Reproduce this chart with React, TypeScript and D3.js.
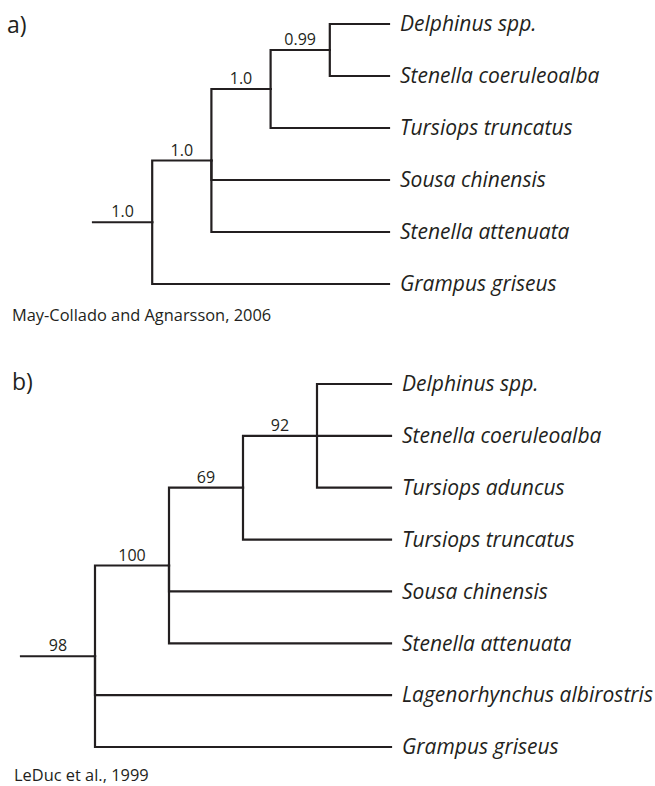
import React from "react";
import * as d3 from "d3";

// Tree a) May-Collado and Agnarsson, 2006 (posterior support)
const treeA = {
  support: "1.0",
  children: [
    {
      support: "1.0",
      children: [
        {
          support: "1.0",
          children: [
            {
              support: "0.99",
              children: [{ name: "Delphinus spp." }, { name: "Stenella coeruleoalba" }],
            },
            { name: "Tursiops truncatus" },
          ],
        },
        { name: "Sousa chinensis" },
        { name: "Stenella attenuata" },
      ],
    },
    { name: "Grampus griseus" },
  ],
};

// Tree b) LeDuc et al., 1999 (bootstrap support)
const treeB = {
  support: "98",
  children: [
    {
      support: "100",
      children: [
        {
          support: "69",
          children: [
            {
              support: "92",
              children: [
                { name: "Delphinus spp." },
                { name: "Stenella coeruleoalba" },
                { name: "Tursiops aduncus" },
              ],
            },
            { name: "Tursiops truncatus" },
          ],
        },
        { name: "Sousa chinensis" },
        { name: "Stenella attenuata" },
      ],
    },
    { name: "Lagenorhynchus albirostris" },
    { name: "Grampus griseus" },
  ],
};

const panelLabels = ["a)", "b)"];
const sources = ["May-Collado and Agnarsson, 2006", "LeDuc et al., 1999"];

const INK = "#231f20";
const FONT = "'Open Sans', 'Noto Sans', sans-serif";

type Node = { name?: string; support?: string; children?: Node[] };

function Tree({ data, xRange, yRange }: { data: Node; xRange: [number, number]; yRange: [number, number] }) {
  const root: any = d3.hierarchy(data);
  const leaves = root.leaves();

  // cladogram: tips aligned, internal nodes stepped by height
  const x = d3.scaleLinear().domain([0, root.height + 1]).range(xRange);
  const y = d3.scaleLinear().domain([0, leaves.length - 1]).range(yRange);

  leaves.forEach((l: any, i: number) => (l.py = y(i)));
  root.eachAfter((n: any) => {
    if (n.children) n.py = (n.children[0].py + n.children[n.children.length - 1].py) / 2;
    n.px = x(root.height + 1 - n.height);
  });

  const elbow = d3
    .line<[number, number]>()
    .x((d) => d[0])
    .y((d) => d[1])
    .curve(d3.curveStepBefore);

  const links = root.links();

  return (
    <g>
      {/* root stub */}
      <path
        d={elbow([
          [x(0), root.py],
          [root.px, root.py],
        ]) as string}
        fill="none"
        stroke={INK}
        strokeWidth={2.2}
        strokeLinecap="square"
      />
      {links.map((l: any, i: number) => (
        <path
          key={i}
          d={elbow([
            [l.source.px, l.source.py],
            [l.target.px, l.target.py],
          ]) as string}
          fill="none"
          stroke={INK}
          strokeWidth={2.2}
          strokeLinecap="square"
        />
      ))}
      {root.descendants().filter((n: any) => n.data.support).map((n: any, i: number) => {
        const start = n.parent ? n.parent.px : x(0);
        return (
          <text
            key={i}
            x={(start + n.px) / 2}
            y={n.py - 5}
            textAnchor="middle"
            fontSize={16}
            fontFamily={FONT}
            fill={INK}
          >
            {n.data.support}
          </text>
        );
      })}
      {leaves.map((l: any, i: number) => (
        <text
          key={i}
          x={l.px + 11}
          y={l.py}
          dy="0.35em"
          fontSize={21}
          fontStyle="italic"
          fontFamily={FONT}
          fill={INK}
        >
          {l.data.name}
        </text>
      ))}
    </g>
  );
}

export default function App() {
  const width = 655;
  const height = 786;
  return (
    <svg
      width={width}
      height={height}
      style={{ position: "absolute", left: 0, top: 0, background: "#fff" }}
    >
      <rect width={width} height={height} fill="#fff" />

      <text x={7} y={33} fontSize={23} fontFamily={FONT} fill={INK}>
        {panelLabels[0]}
      </text>
      <Tree data={treeA} xRange={[93, 389]} yRange={[24, 284]} />
      <text x={12} y={321} fontSize={16.4} fontFamily={FONT} fill={INK}>
        {sources[0]}
      </text>

      <text x={12} y={390} fontSize={23} fontFamily={FONT} fill={INK}>
        {panelLabels[1]}
      </text>
      <Tree data={treeB} xRange={[21, 391]} yRange={[384, 747]} />
      <text x={14} y={781} fontSize={16.4} fontFamily={FONT} fill={INK}>
        {sources[1]}
      </text>
    </svg>
  );
}
